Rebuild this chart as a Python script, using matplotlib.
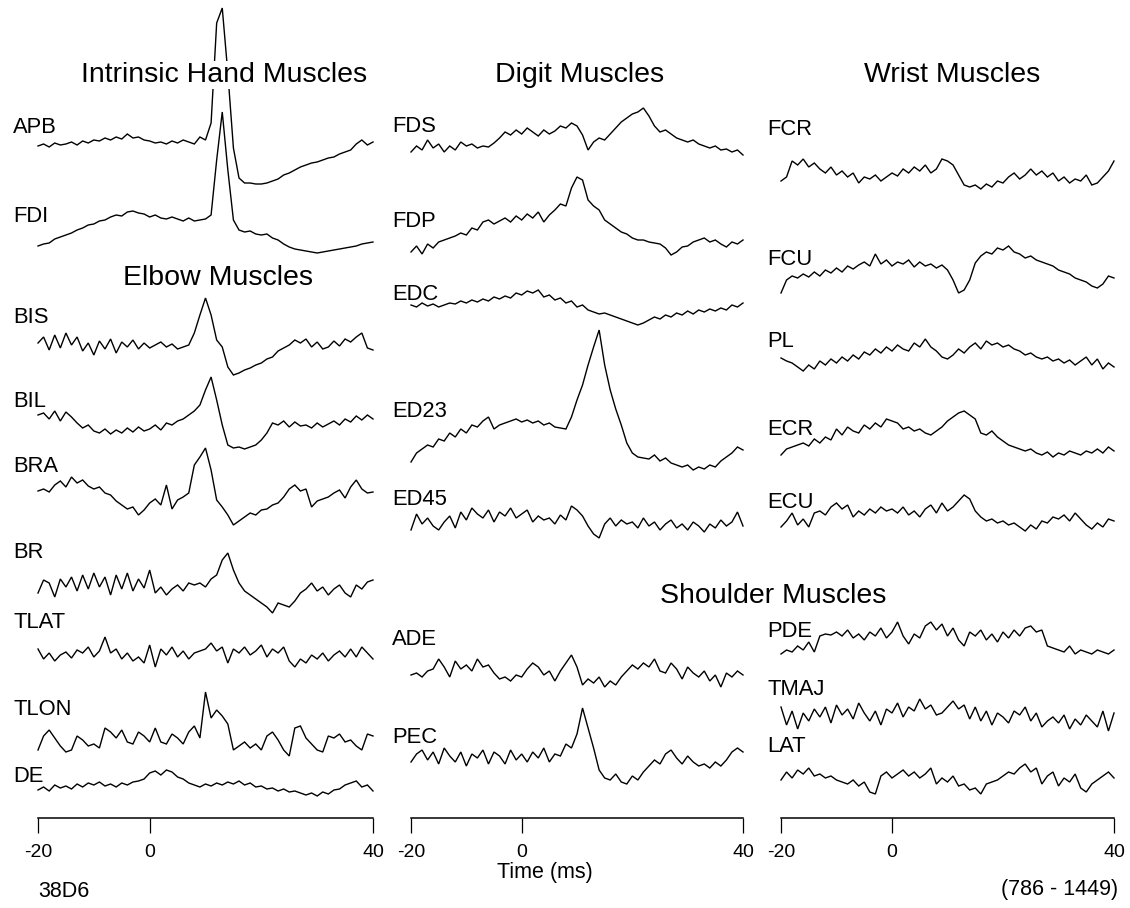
import numpy as np
import matplotlib
matplotlib.use("Agg")
import matplotlib.pyplot as plt

plt.rcParams["font.family"] = ["Liberation Sans", "DejaVu Sans"]
plt.rcParams["axes.unicode_minus"] = False

# ---------------------------------------------------------------- data
time_ms = np.arange(-20, 41)          # 1-ms bins, -20 .. 40 ms
tick_values = [-20, 0, 40]
tick_labels = ["-20", "0", "40"]

# spike-triggered averages (arbitrary units, up = positive)
# intrinsic hand muscles
APB = [-3, -1, -4, 0, -2, -1, 1, -2, 2, 0,
       3, 2, 5, 3, 6, 4, 9, 5, 6, 3,
       2, 0, 1, -1, 2, 0, 3, 1, -1, 6,
       3, 20, 120, 135, 70, -5, -35, -40, -40, -41,
       -41, -40, -38, -36, -32, -30, -27, -24, -22, -20,
       -19, -17, -15, -14, -11, -9, -7, -1, 3, -2,
       1]
FDI = [-26, -24, -23, -19, -17, -15, -13, -10, -8, -5,
       -4, -1, 0, 3, 5, 4, 8, 9, 7, 6,
       3, 5, 2, 1, 3, 1, -1, 2, -1, 0,
       1, 5, 60, 108, 50, 0, -10, -12, -11, -14,
       -15, -14, -18, -20, -24, -27, -29, -30, -31, -32,
       -33, -32, -31, -30, -29, -28, -27, -26, -24, -23,
       -22]
# elbow muscles
BIS = [2, 8, -5, 10, -3, 12, 0, 8, -6, 2,
       -10, 4, -4, 6, -8, 3, -2, 5, -4, 2,
       -3, 0, 3, -2, 1, -4, -2, 0, 12, 30,
       47, 30, 5, -2, -22, -30, -28, -25, -23, -20,
       -18, -14, -12, -6, -3, 0, 5, 2, 6, -2,
       3, -4, -2, 4, -1, 6, 3, 8, 12, -3,
       -5]
BIL = [10, 12, 6, 14, 4, 13, 8, 2, -3, 0,
       -6, -8, -4, -9, -5, -8, -3, -7, -2, -6,
       -4, 0, -5, 2, 0, 4, 6, 10, 14, 20,
       35, 48, 25, 0, -20, -23, -22, -24, -22, -20,
       -15, -8, 2, 0, 4, -2, 3, -1, 0, -3,
       2, -2, 1, 4, 0, 6, 3, 9, 5, 10,
       6]
BRA = [4, 6, 3, 10, 14, 8, 18, 12, 15, 9,
       6, 8, 2, 0, -6, -10, -14, -12, -20, -15,
       -8, -4, -10, 10, -14, -5, -2, 2, 30, 38,
       47, 25, -5, -12, -20, -30, -26, -22, -18, -20,
       -15, -14, -10, -8, -2, 6, 10, 4, 6, -12,
       -6, -4, -2, 2, 5, -3, 8, 15, 6, 2,
       3]
BR = [-8, 5, 2, -12, 6, -2, 8, -6, 10, -4,
      12, -2, 8, -10, 10, -4, 12, -6, 6, -3,
      15, -8, -2, -10, -4, 0, -6, 2, 0, 2,
      -2, 6, 10, 25, 32, 15, 2, -6, -10, -14,
      -18, -22, -28, -18, -20, -22, -16, -8, -4, 2,
      -6, -2, -10, -4, 0, -8, -12, 0, -4, 3,
      5]
TLAT = [6, -4, 2, -6, 0, 3, -3, 5, 2, 8,
        -2, 4, 18, 2, 6, -4, 2, -6, -2, -8,
        10, -12, 6, 0, 8, -2, 4, -4, 2, 4,
        6, 12, 4, 8, -8, 6, 2, 8, 0, 4,
        10, -2, 6, 2, 8, -6, -12, -4, -8, 0,
        -4, 2, -6, 0, 4, -2, 6, -2, 8, 2,
        -4]
TLON = [-10, 4, 10, 2, -6, -12, -10, 4, 0, -6,
        -4, -8, 12, 8, 2, 10, -2, -4, 8, 4,
        -2, 12, -2, -4, 6, 2, -4, 8, 14, 2,
        48, 22, 30, 24, 16, -10, -6, -2, -8, -4,
        -10, 4, 8, 0, -10, -16, 12, 14, 2, -4,
        -10, -12, 4, 2, 6, -2, 0, -6, -10, 6,
        4]
DE = [-3, 0, -4, 2, -1, 1, -2, 3, 0, 4,
      2, 5, 1, 3, 0, 4, 2, 5, 6, 8,
      14, 16, 12, 17, 15, 10, 8, 4, 2, 0,
      3, 1, 4, 2, 5, 3, 6, 2, 4, 0,
      1, -2, -1, -4, -2, -5, -4, -6, -8, -6,
      -9, -5, -7, -3, -2, 2, 4, 6, 0, 2,
      -4]
# digit muscles
FDS = [-12, -6, -10, 0, -8, -4, -12, -6, -10, -2,
       -6, -4, -8, -6, -7, -3, 2, 8, 5, 10,
       6, 12, 8, 4, 10, 6, 9, 14, 12, 17,
       14, 5, -10, -2, 2, 0, 6, 12, 18, 22,
       26, 28, 32, 24, 14, 8, 10, 6, 2, 0,
       -2, 0, -4, -6, -8, -6, -10, -9, -12, -10,
       -15]
FDP = [-22, -16, -24, -14, -18, -12, -10, -8, -6, -3,
       -5, 2, 0, 8, 10, 6, 9, 12, 8, 14,
       10, 16, 12, 18, 8, 15, 20, 26, 24, 42,
       53, 50, 30, 24, 20, 10, 6, 2, -2, -4,
       -8, -10, -10, -12, -13, -14, -18, -25, -22, -17,
       -16, -12, -10, -8, -12, -10, -14, -17, -12, -14,
       -10]
EDC = [0, -2, 2, -1, 1, -2, 0, 2, 1, 4,
       2, 5, 3, 6, 4, 8, 6, 9, 7, 12,
       10, 14, 12, 15, 8, 10, 5, 7, 2, 4,
       -2, 0, -5, -7, -9, -8, -10, -12, -14, -16,
       -18, -20, -18, -15, -12, -14, -10, -12, -8, -10,
       -6, -9, -5, -7, -4, -6, -3, -5, 0, -2,
       2]
ED23 = [-37, -28, -24, -20, -22, -14, -16, -8, -12, -4,
        -8, 0, -2, 4, 8, -4, 0, 2, 4, 6,
        3, 5, 2, 4, 0, 2, -2, -3, -4, 8,
        25, 40, 60, 78, 95, 60, 35, 16, 0, -18,
        -28, -32, -33, -34, -30, -36, -33, -38, -40, -42,
        -40, -45, -42, -44, -40, -42, -36, -32, -28, -22,
        -25]
ED45 = [-10, 6, -4, 2, -6, -10, -2, 4, -8, 8,
        0, 12, 6, 2, 10, -2, 8, 4, 12, 2,
        6, 10, -2, 4, 0, 2, -4, 5, 0, 14,
        10, 4, -6, -14, -18, -4, 2, -6, 0, -4,
        -2, -8, 2, -6, -2, -10, -4, 0, -8, -4,
        -10, -2, -6, -12, -4, -8, 0, -6, -2, 8,
        -6]
# shoulder muscles
ADE = [-2, 0, -4, 2, 4, 14, 6, -4, 12, 4,
       8, 2, 14, 6, 8, 0, -6, -4, -8, -2,
       -4, 4, 10, 6, -2, 2, -8, 2, 10, 18,
       6, -12, -6, -10, -4, -14, -8, -12, -4, 2,
       8, 4, 10, 6, 14, 2, 0, 10, 4, -6,
       6, 0, -4, 2, -8, -2, -14, 0, -4, 2,
       -2]
PEC = [-4, 4, 8, -2, 6, -6, 10, 2, -4, 6,
       -8, 4, 0, 8, -6, 6, 2, -6, 8, -2,
       4, -4, 6, 0, 10, -4, 4, 2, 14, 10,
       24, 50, 30, 10, -12, -20, -22, -16, -24, -26,
       -18, -22, -14, -8, -2, -6, 4, 8, 0, -6,
       2, -4, -8, -6, -10, -4, -8, -2, 6, 10,
       6]
PDE = [-14, -10, -12, -6, -10, -2, -12, 4, 6, 5,
       8, 4, 10, 2, 6, 0, 8, 4, 12, 2,
       8, 18, 4, -4, 6, 2, 14, 18, 10, 16,
       4, 12, 0, -6, 8, 4, 10, 0, 6, -2,
       8, 2, 10, 4, 12, 14, 8, 10, -6, -8,
       -10, -12, -6, -14, -10, -12, -14, -10, -12, -14,
       -10]
TMAJ = [8, -10, 4, -14, 2, -6, 6, -2, 8, -8,
        10, 0, 6, -4, 12, 2, -6, 4, -10, 6,
        2, 12, -2, 8, 4, 16, 6, 10, 0, 2,
        8, 14, 6, 10, -4, 8, -6, 4, -10, 2,
        -2, -8, 4, 0, 8, -6, 2, -12, -6, -2,
        -8, 0, -14, -4, -10, 0, -6, -12, 4, -16,
        2]
LAT = [0, 8, 2, 10, 6, 12, 4, 6, 2, 4,
       0, -2, -4, 0, -6, -2, -12, -14, 4, 8,
       2, 6, 10, 4, 8, 2, 6, 12, -4, 2,
       -2, 4, -6, -4, -10, -8, -14, -4, -2, 0,
       4, 8, 6, 12, 16, 8, 12, -4, 4, 8,
       -6, 2, -2, 6, -8, -12, -4, 0, 4, 8,
       2]
# wrist muscles
FCR = [-6, -2, 14, 10, 16, 8, 12, 6, 2, 8,
       0, 4, -2, 2, -8, -2, -4, 0, -6, -2,
       2, -1, 6, 2, 8, 4, 10, 2, 6, 16,
       14, 10, 0, -10, -12, -10, -14, -9, -12, -6,
       -8, -2, 2, -4, 0, 6, 0, 4, -2, 2,
       -6, -2, -8, -4, -6, 0, -10, -8, -2, 4,
       14]
FCU = [-25, -12, -8, -10, -6, -9, -4, -8, -2, -5,
       0, -4, 2, -1, 3, 6, 2, 14, 4, 8,
       2, 6, 4, 8, 1, 6, 2, 4, 0, 3,
       -2, -12, -25, -22, -12, 5, 12, 16, 14, 20,
       18, 22, 16, 14, 10, 12, 8, 6, 4, 2,
       -2, -4, -6, -10, -12, -14, -18, -20, -16, -8,
       -10]
PL = [-3, -6, -8, -12, -16, -10, -14, -6, -10, -4,
      -8, -2, -6, 0, -4, 3, 0, 6, 2, 8,
      4, 10, 6, 4, 12, 8, 16, 8, 4, -2,
      -4, 0, 6, 2, 8, 12, 6, 14, 10, 12,
      8, 10, 6, 4, 0, 2, -2, -4, -2, -6,
      -4, -8, -5, -10, -6, -2, -10, -4, -14, -8,
      -12]
ECR = [-18, -12, -10, -8, -6, -9, -2, -6, 0, -3,
       8, 2, 10, 6, 4, 12, 8, 14, 10, 18,
       16, 14, 8, 10, 6, 8, 4, 2, 6, 10,
       16, 20, 24, 26, 22, 18, 4, 2, 6, 0,
       -4, -8, -10, -12, -14, -12, -16, -18, -15, -20,
       -16, -18, -14, -16, -18, -14, -16, -12, -16, -10,
       -14]
ECU = [-12, -6, 2, -10, -4, -12, 2, 4, 0, 8,
       12, 6, 10, -2, 4, 0, 6, 2, 8, 4,
       6, 2, 8, 0, 4, -2, 6, 10, 2, 12,
       4, 8, 14, 20, 16, 4, -2, -6, -4, -8,
       -6, -10, -8, -12, -16, -10, -14, -6, -8, -2,
       -4, 0, -6, 2, -4, -10, -14, -8, -12, -4,
       -6]

# ---------------------------------------------------------------- layout
W, H = 1130, 908
AXIS_ROW = 818                     # pixel row of the time axes

columns = [
    dict(x0=38, x1=373, label_x=13,
         traces=[("APB", APB), ("FDI", FDI), ("BIS", BIS), ("BIL", BIL),
                 ("BRA", BRA), ("BR", BR), ("TLAT", TLAT), ("TLON", TLON),
                 ("DE", DE)],
         rows=[143, 220, 345, 425, 495, 585, 655, 740, 787],
         label_rows=[133, 222, 323, 407, 472, 558, 628, 715, 782]),
    dict(x0=411, x1=743, label_x=392,
         traces=[("FDS", FDS), ("FDP", FDP), ("EDC", EDC), ("ED23", ED23),
                 ("ED45", ED45), ("ADE", ADE), ("PEC", PEC)],
         rows=[140, 230, 305, 425, 520, 673, 758],
         label_rows=[132, 227, 300, 417, 505, 645, 743]),
    dict(x0=781, x1=1114, label_x=767,
         traces=[("FCR", FCR), ("FCU", FCU), ("PL", PL), ("ECR", ECR),
                 ("ECU", ECU), ("PDE", PDE), ("TMAJ", TMAJ), ("LAT", LAT)],
         rows=[175, 268, 355, 437, 515, 640, 715, 780],
         label_rows=[135, 265, 347, 435, 508, 637, 695, 752]),
]

group_titles = [("Intrinsic Hand Muscles", 224, 82),
                ("Elbow Muscles", 218, 285),
                ("Digit Muscles", 580, 82),
                ("Wrist Muscles", 952, 82),
                ("Shoulder Muscles", 773, 603)]

fig = plt.figure(figsize=(W / 100, H / 100), dpi=100)

for col in columns:
    ax = fig.add_axes([col["x0"] / W, (H - AXIS_ROW) / H,
                       (col["x1"] - col["x0"]) / W, AXIS_ROW / H])
    ax.set_xlim(-20, 40)
    ax.set_ylim(AXIS_ROW, 0)
    for (name, vals), row in zip(col["traces"], col["rows"]):
        v = np.asarray(vals, dtype=float)
        assert v.size == time_ms.size, name
        ax.plot(time_ms, row - v, color="black", lw=1.0,
                solid_joinstyle="miter", clip_on=False)
    for s in ("top", "left", "right"):
        ax.spines[s].set_visible(False)
    ax.spines["bottom"].set_linewidth(1.1)
    ax.set_yticks([])
    ax.set_xticks(tick_values)
    ax.set_xticklabels(tick_labels)
    ax.tick_params(axis="x", direction="out", length=10.5, width=0.9,
                   pad=8, labelsize=14)
    ax.patch.set_alpha(0)

# text layer in pixel coordinates
tx = fig.add_axes([0, 0, 1, 1])
tx.set_xlim(0, W)
tx.set_ylim(H, 0)
tx.axis("off")
tx.patch.set_alpha(0)

for col in columns:
    for (name, _), lrow in zip(col["traces"], col["label_rows"]):
        tx.text(col["label_x"], lrow, name, fontsize=15.8,
                ha="left", va="baseline")

for title, cx, base in group_titles:
    tx.text(cx, base, title, fontsize=20.5, ha="center", va="baseline",
            bbox=dict(facecolor="white", edgecolor="none", pad=1.0))

tx.text(545, 878, "Time (ms)", fontsize=15.5, ha="center", va="baseline")
tx.text(38, 897, "38D6", fontsize=15.5, ha="left", va="baseline")
tx.text(1118, 895, "(786 - 1449)", fontsize=15.5, ha="right", va="baseline")

fig.savefig("out.png", dpi=100, facecolor="white")
